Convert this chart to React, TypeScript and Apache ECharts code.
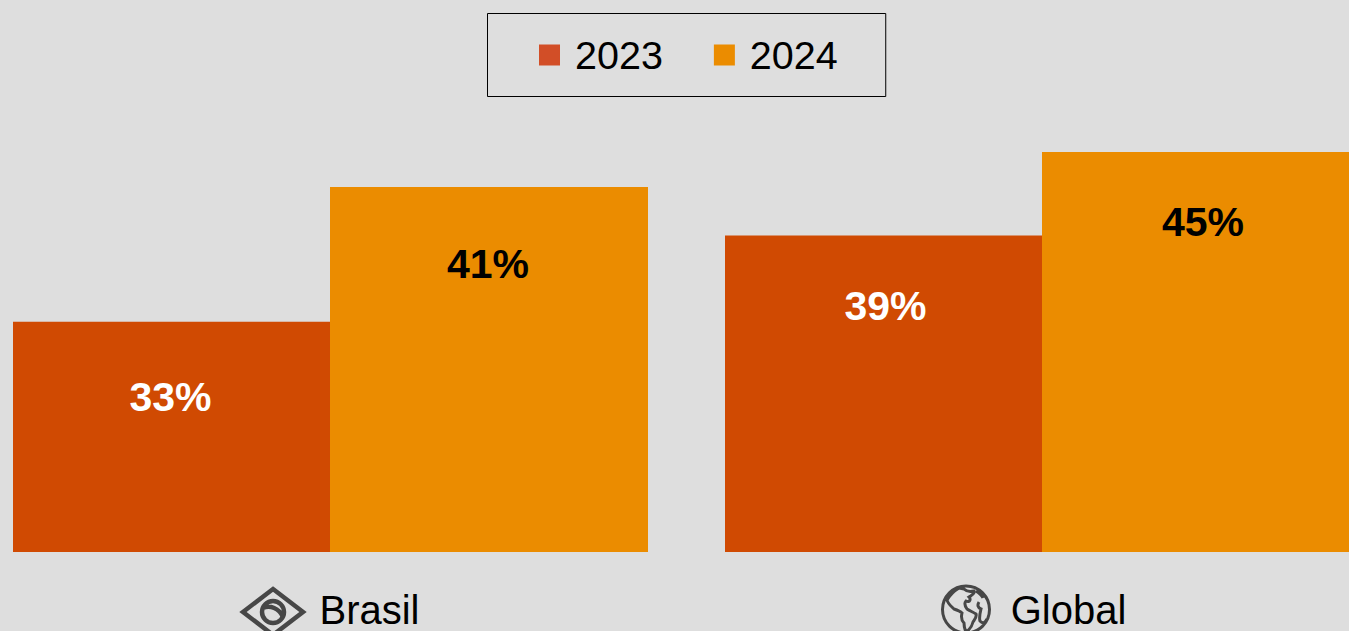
import React, { useEffect, useRef } from "react";
import * as echarts from "echarts";

const categories = ["Brasil", "Global"];
const seriesNames = ["2023", "2024"];
// Bar heights as drawn in the picture (the source chart does not scale 2023 with its labels)
const values2023 = [25.9, 35.6];
const values2024 = [41.05, 45];
const labels2023 = ["33%", "39%"];
const labels2024 = ["41%", "45%"];

const BG = "#DEDEDE";
const BAR_2023 = "#D04A02";
const BAR_2024 = "#EB8C00";
const LEGEND_2023 = "#D24E27";
const FONT = '"Liberation Sans", Arial, Helvetica, sans-serif';
const ICON = "#474747";
const SHIFT = 26; // the plot runs past the page edges; the chart box starts this far left of the page

const labelTuning2023 = [
  { distance: 55, offset: [-1, 0] },
  { distance: 50, offset: [2, 0] },
];
const labelTuning2024 = [
  { distance: 56, offset: [-1, 0] },
  { distance: 49, offset: [2, 0] },
];

const brazilIcon =
  "M31 2 L61 25 L31 48 L1 25 Z M31 14 A11 11 0 1 0 31 36 A11 11 0 1 0 31 14 Z M21 21 C28 18 37 21 41 30";
const globeIcon =
  "M24 1 A23.5 23.5 0 1 0 24 48 A23.5 23.5 0 1 0 24 1 Z " +
  "M17 3 C12 6 8 10 5 15 C6 19 9 21 12 24 C15 25 18 26 20 28 C19 32 20 36 22 38 C22 42 23 45 24 47 C27 45 30 41 31 37 C33 34 35 32 34 29 C31 27 28 26 25 24 C23 21 22 18 24 16 C28 18 29 14 27 12 C30 10 33 9 32 6 C28 7 24 6 22 4 Z " +
  "M37 17 C35 20 36 23 39 24 C38 28 37 33 38 36 C41 39 43 38 45 34 M34 6 C37 8 40 10 41 13";

function barData(values: number[], texts: string[], tuning: { distance: number; offset: number[] }[]) {
  return values.map((value, i) => ({
    value,
    label: { formatter: texts[i], distance: tuning[i].distance, offset: tuning[i].offset },
  }));
}

export default function App() {
  const ref = useRef<HTMLDivElement>(null);
  useEffect(() => {
    document.body.style.margin = "0";
    document.body.style.background = BG;
    echarts.graphic.registerShape("brazilIcon", echarts.graphic.extendPath(brazilIcon, {}) as never);
    echarts.graphic.registerShape("globeIcon", echarts.graphic.extendPath(globeIcon, {}) as never);
    const chart = echarts.init(ref.current!, undefined, { renderer: "svg" });
    chart.setOption({
      animation: false,
      backgroundColor: BG,
      textStyle: { fontFamily: FONT },
      legend: {
        left: 487.5 + SHIFT,
        top: 13.5,
        orient: "horizontal",
        padding: [21.5, 48, 21.5, 51.5],
        borderColor: "#000",
        borderWidth: 1,
        itemWidth: 21,
        itemHeight: 21,
        itemGap: 51,
        icon: "rect",
        textStyle: { fontFamily: FONT, fontSize: 39.5, color: "#000", padding: [0, 0, 0, 10] },
        data: [
          { name: seriesNames[0], itemStyle: { color: LEGEND_2023 } },
          { name: seriesNames[1], itemStyle: { color: BAR_2024 } },
        ],
      },
      grid: { left: 0.5, top: 152, width: 1424, height: 400, containLabel: false },
      xAxis: {
        type: "category",
        data: categories,
        axisLine: { show: false },
        axisTick: { show: false },
        axisLabel: {
          margin: 38,
          interval: 0,
          formatter: (v: string) =>
            v === "Brasil" ? `{iconA|}{name|${v}}` : `{iconB|}{name|${v}}{pad|}`,
          rich: {
            name: { fontFamily: FONT, fontSize: 40, color: "#000" },
            iconA: { width: 78 },
            iconB: { width: 69 },
            pad: { width: 17 },
          },
        },
      },
      yAxis: { type: "value", min: 0, max: 45, show: false, splitLine: { show: false } },
      series: [
        {
          name: seriesNames[0],
          type: "bar",
          data: barData(values2023, labels2023, labelTuning2023),
          barWidth: 317,
          barGap: 0,
          itemStyle: { color: BAR_2023 },
          label: {
            show: true,
            position: "insideTop",
            fontFamily: FONT,
            fontWeight: "bold",
            fontSize: 41,
            color: "#fff",
          },
        },
        {
          name: seriesNames[1],
          type: "bar",
          data: barData(values2024, labels2024, labelTuning2024),
          barWidth: 318,
          barGap: 0,
          itemStyle: { color: BAR_2024 },
          label: {
            show: true,
            position: "insideTop",
            fontFamily: FONT,
            fontWeight: "bold",
            fontSize: 41,
            color: "#000",
          },
        },
      ],
      graphic: [
        { type: "brazilIcon", x: 242 + SHIFT, y: 587, style: { fill: "none", stroke: ICON, lineWidth: 4.5 } },
        { type: "globeIcon", x: 942 + SHIFT, y: 585, style: { fill: "none", stroke: ICON, lineWidth: 3 } },
      ],
    });
    return () => chart.dispose();
  }, []);
  return (
    <div style={{ width: 1349, height: 631, overflow: "hidden", position: "relative" }}>
      <div ref={ref} style={{ position: "absolute", left: -SHIFT, top: 0, width: 1450, height: 631 }} />
    </div>
  );
}
